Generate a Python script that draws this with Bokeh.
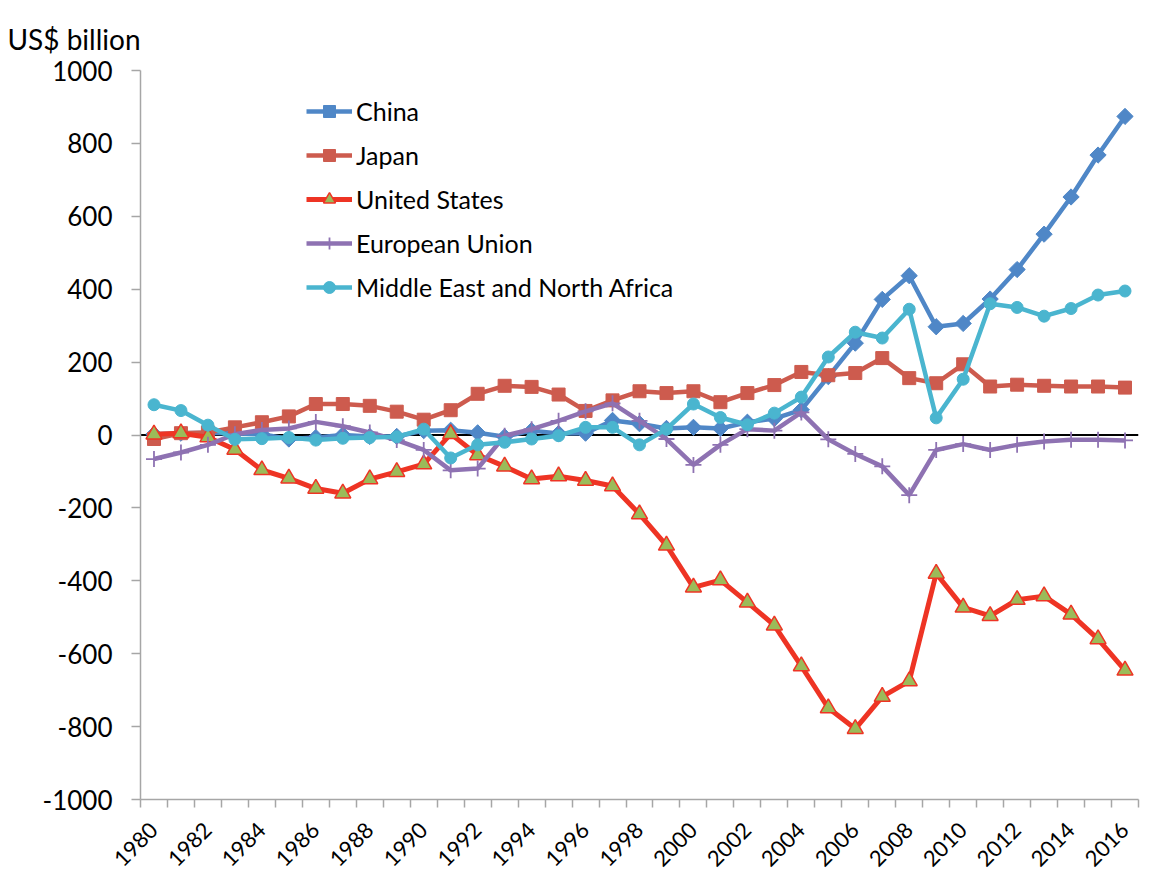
import numpy as np
from bokeh.plotting import figure
from bokeh.models import Range1d, FixedTicker, Span, Legend, LegendItem, PrintfTickFormatter
from bokeh.embed import file_html
from bokeh.resources import INLINE

years = list(range(1980, 2017))
china = [2, 5, 6, 4, 2, -11, -7, 0, -4, -4, 12, 13, 6, -5, 12, 4, 5, 40, 31, 18, 21, 18, 35, 45, 69,
         160, 252, 372, 437, 297, 306, 373, 454, 551, 653, 768, 874]
japan = [-11, 5, 7, 21, 35, 51, 85, 85, 80, 64, 42, 68, 113, 135, 132, 111, 66, 95, 120, 115, 120,
         90, 115, 137, 173, 164, 170, 211, 156, 142, 194, 133, 138, 135, 133, 133, 130]
us = [2, 5, -6, -40, -96, -119, -147, -160, -121, -101, -80, 3, -55, -86, -121, -113, -125, -140,
      -217, -303, -418, -398, -459, -522, -634, -749, -806, -718, -675, -380, -473, -496, -452,
      -442, -492, -560, -646]
eu = [-66, -48, -27, 2, 14, 18, 36, 24, 7, -14, -41, -97, -92, -2, 16, 39, 65, 87, 39, -11, -82,
      -27, 16, 12, 62, -12, -52, -86, -165, -41, -25, -41, -27, -18, -13, -13, -15]
mena = [83, 67, 27, -12, -10, -7, -14, -9, -7, -5, 16, -63, -27, -20, -11, -2, 21, 21, -27, 16, 85,
        48, 28, 60, 104, 214, 282, 266, 345, 47, 153, 360, 350, 326, 347, 384, 395]
names = ["China", "Japan", "United States", "European Union", "Middle East and North Africa"]
y_ticks = list(range(-1000, 1001, 200))
x_label_years = list(range(1980, 2017, 2))
unit_label = "US$ billion"

FONT = "Lato"
AXIS_GREY = "#a6a6a6"

p = figure(width=1156, height=876, output_backend="svg", toolbar_location=None,
           x_range=Range1d(1979.5, 2016.5), y_range=Range1d(-1000, 1000),
           min_border_left=140, min_border_right=18, min_border_top=70, min_border_bottom=74)
p.outline_line_color = None
p.grid.visible = False
p.background_fill_color = "white"

p.title.text = unit_label
p.title.text_font = FONT
p.title.text_font_size = "28px"
p.title.text_font_style = "normal"
p.title.text_color = "black"
p.title.align = "left"
p.title.offset = -133
p.title.standoff = 30

# zero line
p.add_layout(Span(location=0, dimension="width", line_color="black", line_width=2, level="underlay"))

# axes
xa = p.xaxis[0]
xa.ticker = FixedTicker(ticks=x_label_years, minor_ticks=[y - 0.5 for y in range(1980, 2018)])
xa.major_tick_line_color = None
xa.major_tick_out = 8
xa.major_tick_in = 0
xa.minor_tick_out = 8
xa.minor_tick_in = 0
xa.minor_tick_line_color = AXIS_GREY
xa.minor_tick_line_width = 1.5
xa.axis_line_color = AXIS_GREY
xa.axis_line_width = 1.5
xa.major_label_orientation = np.pi / 4
xa.major_label_text_font = FONT
xa.major_label_text_font_size = "22px"
xa.major_label_text_color = "black"
xa.major_label_standoff = 19

ya = p.yaxis[0]
ya.ticker = FixedTicker(ticks=y_ticks)
ya.formatter = PrintfTickFormatter(format="%d")
ya.major_tick_out = 9
ya.major_tick_in = 0
ya.minor_tick_line_color = None
ya.major_tick_line_color = AXIS_GREY
ya.major_tick_line_width = 1.5
ya.axis_line_color = AXIS_GREY
ya.axis_line_width = 1.5
ya.major_label_text_font = FONT
ya.major_label_text_font_size = "26px"
ya.major_label_text_color = "black"
ya.major_label_standoff = 19

items = []
# China
l = p.line(years, china, line_color="#4F87C7", line_width=4.5)
s = p.scatter(years, china, marker="square", angle=np.pi / 4, size=11.5,
              fill_color="#4F87C7", line_color="#4F87C7")
items.append(LegendItem(label=names[0], renderers=[l, s]))
# Japan
l = p.line(years, japan, line_color="#CD5B4E", line_width=4.5)
s = p.scatter(years, japan, marker="square", size=13, fill_color="#CD5B4E", line_color="#CD5B4E")
items.append(LegendItem(label=names[1], renderers=[l, s]))
# United States
l = p.line(years, us, line_color="#EE3424", line_width=5)
s = p.scatter(years, us, marker="triangle", size=16, fill_color="#9BBB59", line_color="#EE3424",
              line_width=1.5)
items.append(LegendItem(label=names[2], renderers=[l, s]))
# European Union
l = p.line(years, eu, line_color="#8E72B2", line_width=4.5)
s = p.scatter(years, eu, marker="cross", size=16, line_color="#8E72B2", line_width=1.8)
items.append(LegendItem(label=names[3], renderers=[l, s]))
# Middle East and North Africa
l = p.line(years, mena, line_color="#4AB5CF", line_width=4.5)
s = p.scatter(years, mena, marker="circle", size=12, fill_color="#4AB5CF", line_color="#4AB5CF")
items.append(LegendItem(label=names[4], renderers=[l, s]))

legend = Legend(items=items, location=(166, 497))
legend.padding = 0
legend.margin = 0
legend.spacing = 14
legend.glyph_width = 46
legend.glyph_height = 30
legend.label_height = 30
legend.label_standoff = 4
legend.label_text_font = FONT
legend.label_text_font_size = "25px"
legend.label_text_color = "black"
legend.border_line_color = None
legend.background_fill_alpha = 0
p.add_layout(legend)

open("out.html", "w").write(file_html(p, INLINE))
